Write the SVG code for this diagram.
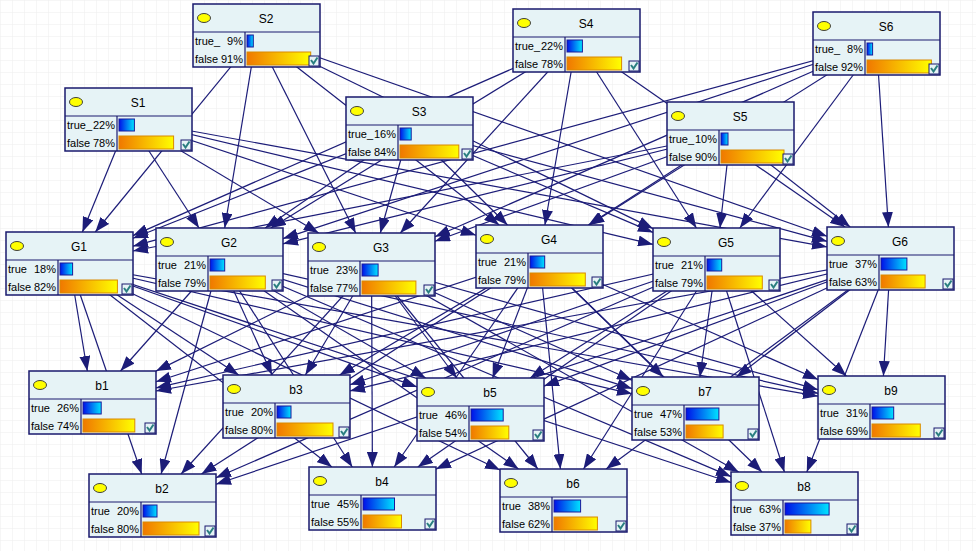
<svg xmlns="http://www.w3.org/2000/svg" width="976" height="551" viewBox="0 0 976 551">
<style>
.e{stroke:#1c1c78;stroke-width:1.2;fill:none;marker-end:url(#ah)}
.box{fill:#e6f3f6;stroke:#1a1a6e;stroke-width:1.5}
.dv{stroke:#1a1a6e;stroke-width:1.2}
.el{fill:#ffff00;stroke:#404040;stroke-width:1}
.t{font-family:"Liberation Sans",Arial,sans-serif;font-size:11px;fill:#000}
.h{font-family:"Liberation Sans",Arial,sans-serif;font-size:12px;fill:#000;text-anchor:middle}
.r{text-anchor:end}
.tb{fill:url(#gb);stroke:#1a1a9a;stroke-width:1}
.fb{fill:url(#go);stroke:#d98a00;stroke-width:1}
.cb{fill:#e6f3f6;stroke:#1a1a6e;stroke-width:1}
.ck{fill:none;stroke:#2a7f80;stroke-width:2}
</style>
<defs>
<pattern id="grid" width="12" height="12" patternUnits="userSpaceOnUse"><path d="M12,0 L0,0 L0,12" fill="none" stroke="#ededed" stroke-width="1"/></pattern>
<linearGradient id="gb" x1="0" y1="0" x2="1" y2="0"><stop offset="0" stop-color="#0010e8"/><stop offset="1" stop-color="#00e4ff"/></linearGradient>
<linearGradient id="go" x1="0" y1="0" x2="1" y2="0"><stop offset="0" stop-color="#f07800"/><stop offset="1" stop-color="#ffff00"/></linearGradient>
<marker id="ah" markerUnits="userSpaceOnUse" markerWidth="15" markerHeight="11" refX="15" refY="5.5" orient="auto" viewBox="0 0 15 11"><path d="M0,0 L15,5.5 L0,11 z" fill="#1c1c78"/></marker>
</defs>
<rect x="0" y="0" width="976" height="551" fill="#ffffff"/>
<rect x="0" y="0" width="976" height="551" fill="url(#grid)"/>
<g id="connectors">
<line class="e" x1="128.5" y1="119.5" x2="82.4" y2="232"/>
<line class="e" x1="128.5" y1="119.5" x2="199" y2="228"/>
<line class="e" x1="128.5" y1="119.5" x2="318.7" y2="233"/>
<line class="e" x1="128.5" y1="119.5" x2="476" y2="235.3"/>
<line class="e" x1="128.5" y1="119.5" x2="653" y2="244.4"/>
<line class="e" x1="128.5" y1="119.5" x2="827" y2="246.9"/>
<line class="e" x1="256.5" y1="35.5" x2="95.3" y2="232"/>
<line class="e" x1="256.5" y1="35.5" x2="224.7" y2="228"/>
<line class="e" x1="256.5" y1="35.5" x2="355.7" y2="233"/>
<line class="e" x1="256.5" y1="35.5" x2="499.2" y2="225"/>
<line class="e" x1="256.5" y1="35.5" x2="653" y2="228.6"/>
<line class="e" x1="256.5" y1="35.5" x2="827" y2="236.2"/>
<line class="e" x1="409.5" y1="128.5" x2="133" y2="238.3"/>
<line class="e" x1="409.5" y1="128.5" x2="265.2" y2="228"/>
<line class="e" x1="409.5" y1="128.5" x2="380.3" y2="233"/>
<line class="e" x1="409.5" y1="128.5" x2="507.5" y2="225"/>
<line class="e" x1="409.5" y1="128.5" x2="653" y2="232.4"/>
<line class="e" x1="409.5" y1="128.5" x2="827" y2="241.3"/>
<line class="e" x1="576.5" y1="40.5" x2="133" y2="235.6"/>
<line class="e" x1="576.5" y1="40.5" x2="270.8" y2="228"/>
<line class="e" x1="576.5" y1="40.5" x2="400.3" y2="233"/>
<line class="e" x1="576.5" y1="40.5" x2="544.9" y2="225"/>
<line class="e" x1="576.5" y1="40.5" x2="696.4" y2="228"/>
<line class="e" x1="576.5" y1="40.5" x2="845.1" y2="227"/>
<line class="e" x1="730.5" y1="133.5" x2="133" y2="251"/>
<line class="e" x1="730.5" y1="133.5" x2="283" y2="243.8"/>
<line class="e" x1="730.5" y1="133.5" x2="435" y2="241.3"/>
<line class="e" x1="730.5" y1="133.5" x2="588.4" y2="225"/>
<line class="e" x1="730.5" y1="133.5" x2="720" y2="228"/>
<line class="e" x1="730.5" y1="133.5" x2="850.2" y2="227"/>
<line class="e" x1="876.5" y1="43.5" x2="133" y2="246.2"/>
<line class="e" x1="876.5" y1="43.5" x2="283" y2="238.6"/>
<line class="e" x1="876.5" y1="43.5" x2="435" y2="236.7"/>
<line class="e" x1="876.5" y1="43.5" x2="589.3" y2="225"/>
<line class="e" x1="876.5" y1="43.5" x2="739.8" y2="228"/>
<line class="e" x1="876.5" y1="43.5" x2="888.4" y2="227"/>
<line class="e" x1="69.5" y1="263.5" x2="87.3" y2="371"/>
<line class="e" x1="69.5" y1="263.5" x2="238.7" y2="375"/>
<line class="e" x1="69.5" y1="263.5" x2="417" y2="386.9"/>
<line class="e" x1="69.5" y1="263.5" x2="632" y2="393.8"/>
<line class="e" x1="69.5" y1="263.5" x2="818" y2="396.2"/>
<line class="e" x1="69.5" y1="263.5" x2="141.7" y2="474"/>
<line class="e" x1="69.5" y1="263.5" x2="331.9" y2="467"/>
<line class="e" x1="69.5" y1="263.5" x2="500" y2="470"/>
<line class="e" x1="69.5" y1="263.5" x2="731" y2="482.5"/>
<line class="e" x1="219.5" y1="259.5" x2="120.5" y2="371"/>
<line class="e" x1="219.5" y1="259.5" x2="272.1" y2="375"/>
<line class="e" x1="219.5" y1="259.5" x2="425.7" y2="378"/>
<line class="e" x1="219.5" y1="259.5" x2="632" y2="388.6"/>
<line class="e" x1="219.5" y1="259.5" x2="818" y2="393.3"/>
<line class="e" x1="219.5" y1="259.5" x2="161.1" y2="474"/>
<line class="e" x1="219.5" y1="259.5" x2="352.3" y2="467"/>
<line class="e" x1="219.5" y1="259.5" x2="518.5" y2="469"/>
<line class="e" x1="219.5" y1="259.5" x2="731" y2="476.6"/>
<line class="e" x1="371.5" y1="264.5" x2="156" y2="371.1"/>
<line class="e" x1="371.5" y1="264.5" x2="305.4" y2="375"/>
<line class="e" x1="371.5" y1="264.5" x2="456.8" y2="378"/>
<line class="e" x1="371.5" y1="264.5" x2="632" y2="380.3"/>
<line class="e" x1="371.5" y1="264.5" x2="818" y2="389.7"/>
<line class="e" x1="371.5" y1="264.5" x2="181.1" y2="474"/>
<line class="e" x1="371.5" y1="264.5" x2="372.4" y2="467"/>
<line class="e" x1="371.5" y1="264.5" x2="537.9" y2="469"/>
<line class="e" x1="371.5" y1="264.5" x2="738.7" y2="472"/>
<line class="e" x1="539.5" y1="256.5" x2="156" y2="381.8"/>
<line class="e" x1="539.5" y1="256.5" x2="339.6" y2="375"/>
<line class="e" x1="539.5" y1="256.5" x2="492.6" y2="378"/>
<line class="e" x1="539.5" y1="256.5" x2="663.2" y2="377"/>
<line class="e" x1="539.5" y1="256.5" x2="818" y2="379.5"/>
<line class="e" x1="539.5" y1="256.5" x2="201.5" y2="474"/>
<line class="e" x1="539.5" y1="256.5" x2="394.2" y2="467"/>
<line class="e" x1="539.5" y1="256.5" x2="560.4" y2="469"/>
<line class="e" x1="539.5" y1="256.5" x2="762" y2="472"/>
<line class="e" x1="716.5" y1="259.5" x2="156" y2="387.9"/>
<line class="e" x1="716.5" y1="259.5" x2="350" y2="384.8"/>
<line class="e" x1="716.5" y1="259.5" x2="530.1" y2="378"/>
<line class="e" x1="716.5" y1="259.5" x2="699.9" y2="377"/>
<line class="e" x1="716.5" y1="259.5" x2="846.4" y2="376"/>
<line class="e" x1="716.5" y1="259.5" x2="216" y2="477.8"/>
<line class="e" x1="716.5" y1="259.5" x2="417.8" y2="467"/>
<line class="e" x1="716.5" y1="259.5" x2="583.5" y2="469"/>
<line class="e" x1="716.5" y1="259.5" x2="784.4" y2="472"/>
<line class="e" x1="890.5" y1="258.5" x2="156" y2="391"/>
<line class="e" x1="890.5" y1="258.5" x2="350" y2="390.9"/>
<line class="e" x1="890.5" y1="258.5" x2="544" y2="386.1"/>
<line class="e" x1="890.5" y1="258.5" x2="736.5" y2="377"/>
<line class="e" x1="890.5" y1="258.5" x2="883.4" y2="376"/>
<line class="e" x1="890.5" y1="258.5" x2="216" y2="484.2"/>
<line class="e" x1="890.5" y1="258.5" x2="436" y2="469.1"/>
<line class="e" x1="890.5" y1="258.5" x2="606.1" y2="469"/>
<line class="e" x1="890.5" y1="258.5" x2="806.8" y2="472"/>
</g>
<g id="S2" transform="translate(193,4)"><rect class="box" width="127" height="63"/><line class="dv" x1="0" y1="28" x2="127" y2="28"/><line class="dv" x1="52" y1="28" x2="52" y2="63"/><ellipse class="el" cx="11" cy="14" rx="6.5" ry="4.5"/><text class="h" x="73" y="18.5">S2</text><text class="t" x="2" y="41">true_</text><text class="t r" x="50" y="41">9%</text><text class="t" x="2" y="59">false</text><text class="t r" x="50" y="59">91%</text><rect class="tb" x="54" y="31" width="6.3" height="12"/><rect class="fb" x="54" y="48" width="63.7" height="13"/><rect class="cb" x="116" y="52" width="10" height="10"/><path class="ck" d="M118,56 L120.5,59.5 L124.5,53.5"/></g>
<g id="S4" transform="translate(513,9)"><rect class="box" width="127" height="63"/><line class="dv" x1="0" y1="28" x2="127" y2="28"/><line class="dv" x1="52" y1="28" x2="52" y2="63"/><ellipse class="el" cx="11" cy="14" rx="6.5" ry="4.5"/><text class="h" x="73" y="18.5">S4</text><text class="t" x="2" y="41">true_</text><text class="t r" x="50" y="41">22%</text><text class="t" x="2" y="59">false</text><text class="t r" x="50" y="59">78%</text><rect class="tb" x="54" y="31" width="15.4" height="12"/><rect class="fb" x="54" y="48" width="54.6" height="13"/><rect class="cb" x="116" y="52" width="10" height="10"/><path class="ck" d="M118,56 L120.5,59.5 L124.5,53.5"/></g>
<g id="S6" transform="translate(813,12)"><rect class="box" width="127" height="63"/><line class="dv" x1="0" y1="28" x2="127" y2="28"/><line class="dv" x1="52" y1="28" x2="52" y2="63"/><ellipse class="el" cx="11" cy="14" rx="6.5" ry="4.5"/><text class="h" x="73" y="18.5">S6</text><text class="t" x="2" y="41">true_</text><text class="t r" x="50" y="41">8%</text><text class="t" x="2" y="59">false</text><text class="t r" x="50" y="59">92%</text><rect class="tb" x="54" y="31" width="5.6" height="12"/><rect class="fb" x="54" y="48" width="64.4" height="13"/><rect class="cb" x="116" y="52" width="10" height="10"/><path class="ck" d="M118,56 L120.5,59.5 L124.5,53.5"/></g>
<g id="S1" transform="translate(65,88)"><rect class="box" width="127" height="63"/><line class="dv" x1="0" y1="28" x2="127" y2="28"/><line class="dv" x1="52" y1="28" x2="52" y2="63"/><ellipse class="el" cx="11" cy="14" rx="6.5" ry="4.5"/><text class="h" x="73" y="18.5">S1</text><text class="t" x="2" y="41">true_</text><text class="t r" x="50" y="41">22%</text><text class="t" x="2" y="59">false</text><text class="t r" x="50" y="59">78%</text><rect class="tb" x="54" y="31" width="15.4" height="12"/><rect class="fb" x="54" y="48" width="54.6" height="13"/><rect class="cb" x="116" y="52" width="10" height="10"/><path class="ck" d="M118,56 L120.5,59.5 L124.5,53.5"/></g>
<g id="S3" transform="translate(346,97)"><rect class="box" width="127" height="63"/><line class="dv" x1="0" y1="28" x2="127" y2="28"/><line class="dv" x1="52" y1="28" x2="52" y2="63"/><ellipse class="el" cx="11" cy="14" rx="6.5" ry="4.5"/><text class="h" x="73" y="18.5">S3</text><text class="t" x="2" y="41">true_</text><text class="t r" x="50" y="41">16%</text><text class="t" x="2" y="59">false</text><text class="t r" x="50" y="59">84%</text><rect class="tb" x="54" y="31" width="11.2" height="12"/><rect class="fb" x="54" y="48" width="58.8" height="13"/><rect class="cb" x="116" y="52" width="10" height="10"/><path class="ck" d="M118,56 L120.5,59.5 L124.5,53.5"/></g>
<g id="S5" transform="translate(667,102)"><rect class="box" width="127" height="63"/><line class="dv" x1="0" y1="28" x2="127" y2="28"/><line class="dv" x1="52" y1="28" x2="52" y2="63"/><ellipse class="el" cx="11" cy="14" rx="6.5" ry="4.5"/><text class="h" x="73" y="18.5">S5</text><text class="t" x="2" y="41">true_</text><text class="t r" x="50" y="41">10%</text><text class="t" x="2" y="59">false</text><text class="t r" x="50" y="59">90%</text><rect class="tb" x="54" y="31" width="7" height="12"/><rect class="fb" x="54" y="48" width="63" height="13"/><rect class="cb" x="116" y="52" width="10" height="10"/><path class="ck" d="M118,56 L120.5,59.5 L124.5,53.5"/></g>
<g id="G1" transform="translate(6,232)"><rect class="box" width="127" height="63"/><line class="dv" x1="0" y1="28" x2="127" y2="28"/><line class="dv" x1="52" y1="28" x2="52" y2="63"/><ellipse class="el" cx="11" cy="14" rx="6.5" ry="4.5"/><text class="h" x="73" y="18.5">G1</text><text class="t" x="2" y="41">true</text><text class="t r" x="50" y="41">18%</text><text class="t" x="2" y="59">false</text><text class="t r" x="50" y="59">82%</text><rect class="tb" x="54" y="31" width="12.6" height="12"/><rect class="fb" x="54" y="48" width="57.4" height="13"/><rect class="cb" x="116" y="52" width="10" height="10"/><path class="ck" d="M118,56 L120.5,59.5 L124.5,53.5"/></g>
<g id="G2" transform="translate(156,228)"><rect class="box" width="127" height="63"/><line class="dv" x1="0" y1="28" x2="127" y2="28"/><line class="dv" x1="52" y1="28" x2="52" y2="63"/><ellipse class="el" cx="11" cy="14" rx="6.5" ry="4.5"/><text class="h" x="73" y="18.5">G2</text><text class="t" x="2" y="41">true</text><text class="t r" x="50" y="41">21%</text><text class="t" x="2" y="59">false</text><text class="t r" x="50" y="59">79%</text><rect class="tb" x="54" y="31" width="14.7" height="12"/><rect class="fb" x="54" y="48" width="55.3" height="13"/><rect class="cb" x="116" y="52" width="10" height="10"/><path class="ck" d="M118,56 L120.5,59.5 L124.5,53.5"/></g>
<g id="G3" transform="translate(308,233)"><rect class="box" width="127" height="63"/><line class="dv" x1="0" y1="28" x2="127" y2="28"/><line class="dv" x1="52" y1="28" x2="52" y2="63"/><ellipse class="el" cx="11" cy="14" rx="6.5" ry="4.5"/><text class="h" x="73" y="18.5">G3</text><text class="t" x="2" y="41">true</text><text class="t r" x="50" y="41">23%</text><text class="t" x="2" y="59">false</text><text class="t r" x="50" y="59">77%</text><rect class="tb" x="54" y="31" width="16.1" height="12"/><rect class="fb" x="54" y="48" width="53.9" height="13"/><rect class="cb" x="116" y="52" width="10" height="10"/><path class="ck" d="M118,56 L120.5,59.5 L124.5,53.5"/></g>
<g id="G4" transform="translate(476,225)"><rect class="box" width="127" height="63"/><line class="dv" x1="0" y1="28" x2="127" y2="28"/><line class="dv" x1="52" y1="28" x2="52" y2="63"/><ellipse class="el" cx="11" cy="14" rx="6.5" ry="4.5"/><text class="h" x="73" y="18.5">G4</text><text class="t" x="2" y="41">true</text><text class="t r" x="50" y="41">21%</text><text class="t" x="2" y="59">false</text><text class="t r" x="50" y="59">79%</text><rect class="tb" x="54" y="31" width="14.7" height="12"/><rect class="fb" x="54" y="48" width="55.3" height="13"/><rect class="cb" x="116" y="52" width="10" height="10"/><path class="ck" d="M118,56 L120.5,59.5 L124.5,53.5"/></g>
<g id="G5" transform="translate(653,228)"><rect class="box" width="127" height="63"/><line class="dv" x1="0" y1="28" x2="127" y2="28"/><line class="dv" x1="52" y1="28" x2="52" y2="63"/><ellipse class="el" cx="11" cy="14" rx="6.5" ry="4.5"/><text class="h" x="73" y="18.5">G5</text><text class="t" x="2" y="41">true</text><text class="t r" x="50" y="41">21%</text><text class="t" x="2" y="59">false</text><text class="t r" x="50" y="59">79%</text><rect class="tb" x="54" y="31" width="14.7" height="12"/><rect class="fb" x="54" y="48" width="55.3" height="13"/><rect class="cb" x="116" y="52" width="10" height="10"/><path class="ck" d="M118,56 L120.5,59.5 L124.5,53.5"/></g>
<g id="G6" transform="translate(827,227)"><rect class="box" width="127" height="63"/><line class="dv" x1="0" y1="28" x2="127" y2="28"/><line class="dv" x1="52" y1="28" x2="52" y2="63"/><ellipse class="el" cx="11" cy="14" rx="6.5" ry="4.5"/><text class="h" x="73" y="18.5">G6</text><text class="t" x="2" y="41">true</text><text class="t r" x="50" y="41">37%</text><text class="t" x="2" y="59">false</text><text class="t r" x="50" y="59">63%</text><rect class="tb" x="54" y="31" width="25.9" height="12"/><rect class="fb" x="54" y="48" width="44.1" height="13"/><rect class="cb" x="116" y="52" width="10" height="10"/><path class="ck" d="M118,56 L120.5,59.5 L124.5,53.5"/></g>
<g id="b1" transform="translate(29,371)"><rect class="box" width="127" height="63"/><line class="dv" x1="0" y1="28" x2="127" y2="28"/><line class="dv" x1="52" y1="28" x2="52" y2="63"/><ellipse class="el" cx="11" cy="14" rx="6.5" ry="4.5"/><text class="h" x="73" y="18.5">b1</text><text class="t" x="2" y="41">true</text><text class="t r" x="50" y="41">26%</text><text class="t" x="2" y="59">false</text><text class="t r" x="50" y="59">74%</text><rect class="tb" x="54" y="31" width="18.2" height="12"/><rect class="fb" x="54" y="48" width="51.8" height="13"/><rect class="cb" x="116" y="52" width="10" height="10"/><path class="ck" d="M118,56 L120.5,59.5 L124.5,53.5"/></g>
<g id="b3" transform="translate(223,375)"><rect class="box" width="127" height="63"/><line class="dv" x1="0" y1="28" x2="127" y2="28"/><line class="dv" x1="52" y1="28" x2="52" y2="63"/><ellipse class="el" cx="11" cy="14" rx="6.5" ry="4.5"/><text class="h" x="73" y="18.5">b3</text><text class="t" x="2" y="41">true</text><text class="t r" x="50" y="41">20%</text><text class="t" x="2" y="59">false</text><text class="t r" x="50" y="59">80%</text><rect class="tb" x="54" y="31" width="14" height="12"/><rect class="fb" x="54" y="48" width="56" height="13"/><rect class="cb" x="116" y="52" width="10" height="10"/><path class="ck" d="M118,56 L120.5,59.5 L124.5,53.5"/></g>
<g id="b5" transform="translate(417,378)"><rect class="box" width="127" height="63"/><line class="dv" x1="0" y1="28" x2="127" y2="28"/><line class="dv" x1="52" y1="28" x2="52" y2="63"/><ellipse class="el" cx="11" cy="14" rx="6.5" ry="4.5"/><text class="h" x="73" y="18.5">b5</text><text class="t" x="2" y="41">true</text><text class="t r" x="50" y="41">46%</text><text class="t" x="2" y="59">false</text><text class="t r" x="50" y="59">54%</text><rect class="tb" x="54" y="31" width="32.2" height="12"/><rect class="fb" x="54" y="48" width="37.8" height="13"/><rect class="cb" x="116" y="52" width="10" height="10"/><path class="ck" d="M118,56 L120.5,59.5 L124.5,53.5"/></g>
<g id="b7" transform="translate(632,377)"><rect class="box" width="127" height="63"/><line class="dv" x1="0" y1="28" x2="127" y2="28"/><line class="dv" x1="52" y1="28" x2="52" y2="63"/><ellipse class="el" cx="11" cy="14" rx="6.5" ry="4.5"/><text class="h" x="73" y="18.5">b7</text><text class="t" x="2" y="41">true</text><text class="t r" x="50" y="41">47%</text><text class="t" x="2" y="59">false</text><text class="t r" x="50" y="59">53%</text><rect class="tb" x="54" y="31" width="32.9" height="12"/><rect class="fb" x="54" y="48" width="37.1" height="13"/><rect class="cb" x="116" y="52" width="10" height="10"/><path class="ck" d="M118,56 L120.5,59.5 L124.5,53.5"/></g>
<g id="b9" transform="translate(818,376)"><rect class="box" width="127" height="63"/><line class="dv" x1="0" y1="28" x2="127" y2="28"/><line class="dv" x1="52" y1="28" x2="52" y2="63"/><ellipse class="el" cx="11" cy="14" rx="6.5" ry="4.5"/><text class="h" x="73" y="18.5">b9</text><text class="t" x="2" y="41">true</text><text class="t r" x="50" y="41">31%</text><text class="t" x="2" y="59">false</text><text class="t r" x="50" y="59">69%</text><rect class="tb" x="54" y="31" width="21.7" height="12"/><rect class="fb" x="54" y="48" width="48.3" height="13"/><rect class="cb" x="116" y="52" width="10" height="10"/><path class="ck" d="M118,56 L120.5,59.5 L124.5,53.5"/></g>
<g id="b2" transform="translate(89,474)"><rect class="box" width="127" height="63"/><line class="dv" x1="0" y1="28" x2="127" y2="28"/><line class="dv" x1="52" y1="28" x2="52" y2="63"/><ellipse class="el" cx="11" cy="14" rx="6.5" ry="4.5"/><text class="h" x="73" y="18.5">b2</text><text class="t" x="2" y="41">true</text><text class="t r" x="50" y="41">20%</text><text class="t" x="2" y="59">false</text><text class="t r" x="50" y="59">80%</text><rect class="tb" x="54" y="31" width="14" height="12"/><rect class="fb" x="54" y="48" width="56" height="13"/><rect class="cb" x="116" y="52" width="10" height="10"/><path class="ck" d="M118,56 L120.5,59.5 L124.5,53.5"/></g>
<g id="b4" transform="translate(309,467)"><rect class="box" width="127" height="63"/><line class="dv" x1="0" y1="28" x2="127" y2="28"/><line class="dv" x1="52" y1="28" x2="52" y2="63"/><ellipse class="el" cx="11" cy="14" rx="6.5" ry="4.5"/><text class="h" x="73" y="18.5">b4</text><text class="t" x="2" y="41">true</text><text class="t r" x="50" y="41">45%</text><text class="t" x="2" y="59">false</text><text class="t r" x="50" y="59">55%</text><rect class="tb" x="54" y="31" width="31.5" height="12"/><rect class="fb" x="54" y="48" width="38.5" height="13"/><rect class="cb" x="116" y="52" width="10" height="10"/><path class="ck" d="M118,56 L120.5,59.5 L124.5,53.5"/></g>
<g id="b6" transform="translate(500,469)"><rect class="box" width="127" height="63"/><line class="dv" x1="0" y1="28" x2="127" y2="28"/><line class="dv" x1="52" y1="28" x2="52" y2="63"/><ellipse class="el" cx="11" cy="14" rx="6.5" ry="4.5"/><text class="h" x="73" y="18.5">b6</text><text class="t" x="2" y="41">true</text><text class="t r" x="50" y="41">38%</text><text class="t" x="2" y="59">false</text><text class="t r" x="50" y="59">62%</text><rect class="tb" x="54" y="31" width="26.6" height="12"/><rect class="fb" x="54" y="48" width="43.4" height="13"/><rect class="cb" x="116" y="52" width="10" height="10"/><path class="ck" d="M118,56 L120.5,59.5 L124.5,53.5"/></g>
<g id="b8" transform="translate(731,472)"><rect class="box" width="127" height="63"/><line class="dv" x1="0" y1="28" x2="127" y2="28"/><line class="dv" x1="52" y1="28" x2="52" y2="63"/><ellipse class="el" cx="11" cy="14" rx="6.5" ry="4.5"/><text class="h" x="73" y="18.5">b8</text><text class="t" x="2" y="41">true</text><text class="t r" x="50" y="41">63%</text><text class="t" x="2" y="59">false</text><text class="t r" x="50" y="59">37%</text><rect class="tb" x="54" y="31" width="44.1" height="12"/><rect class="fb" x="54" y="48" width="25.9" height="13"/><rect class="cb" x="116" y="52" width="10" height="10"/><path class="ck" d="M118,56 L120.5,59.5 L124.5,53.5"/></g>
</svg>
